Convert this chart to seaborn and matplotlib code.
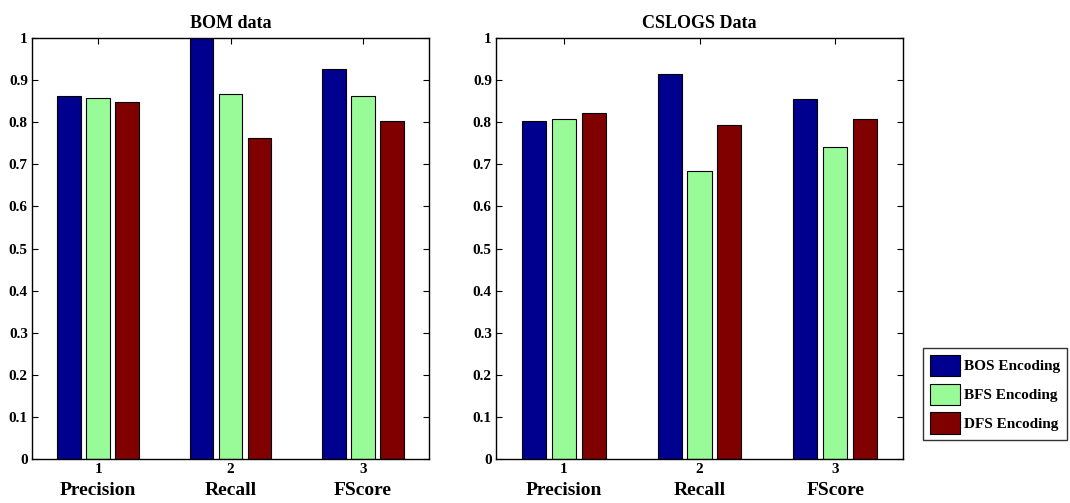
import matplotlib
matplotlib.use("Agg")
import matplotlib.pyplot as plt
import pandas as pd
import seaborn as sns

# Metrics and encodings
metrics = ["Precision", "Recall", "FScore"]
tick_labels = ["1", "2", "3"]
encodings = ["BOS Encoding", "BFS Encoding", "DFS Encoding"]
colors = ["#00008F", "#98FB98", "#800000"]

# BOM dataset scores (per encoding, per metric)
bom_bos = [0.862, 1.000, 0.926]
bom_bfs = [0.858, 0.868, 0.862]
bom_dfs = [0.848, 0.763, 0.803]

# CSLOGS dataset scores
cs_bos = [0.803, 0.915, 0.856]
cs_bfs = [0.807, 0.685, 0.740]
cs_dfs = [0.821, 0.793, 0.807]

y_ticks = [0, 0.1, 0.2, 0.3, 0.4, 0.5, 0.6, 0.7, 0.8, 0.9, 1]
y_tick_labels = ["0", "0.1", "0.2", "0.3", "0.4", "0.5", "0.6", "0.7", "0.8", "0.9", "1"]


def to_frame(bos, bfs, dfs):
    rows = []
    for enc, vals in zip(encodings, [bos, bfs, dfs]):
        for m, v in zip(metrics, vals):
            rows.append({"metric": m, "encoding": enc, "score": v})
    return pd.DataFrame(rows)


sns.set_theme(style="white")
plt.rcParams["font.family"] = ["Liberation Serif", "DejaVu Serif"]
plt.rcParams["font.weight"] = "bold"
plt.rcParams["text.color"] = "black"
plt.rcParams["axes.labelcolor"] = "black"
plt.rcParams["xtick.color"] = "black"
plt.rcParams["ytick.color"] = "black"

fig = plt.figure(figsize=(10.7, 5.03), dpi=100)
ax1 = fig.add_axes([32 / 1070, 44 / 503, 397 / 1070, 421 / 503])
ax2 = fig.add_axes([496 / 1070, 44 / 503, 407 / 1070, 421 / 503])

panels = [
    (ax1, to_frame(bom_bos, bom_bfs, bom_dfs), "BOM data"),
    (ax2, to_frame(cs_bos, cs_bfs, cs_dfs), "CSLOGS Data"),
]

for ax, df, title in panels:
    sns.barplot(
        data=df, x="metric", y="score", hue="encoding", order=metrics,
        hue_order=encodings, palette=colors, width=0.66, gap=0.19,
        edgecolor="black", linewidth=0.8, saturation=1, ax=ax, legend=False,
        errorbar=None,
    )
    ax.set_xlim(-0.5, 2.5)
    ax.set_ylim(0, 1)
    ax.set_xticks(range(3))
    ax.set_xticklabels(tick_labels, fontsize=11, fontweight="bold", color="black")
    ax.set_yticks(y_ticks)
    ax.set_yticklabels(y_tick_labels, fontsize=11, fontweight="bold", color="black")
    ax.tick_params(direction="in", length=4, width=0.8, top=True, right=True,
                   bottom=True, left=True, pad=3, colors="black")
    for s in ax.spines.values():
        s.set_color("black")
        s.set_linewidth(1.0)
    ax.set_xlabel("")
    ax.set_ylabel("")
    ax.set_title(title, fontsize=13, fontweight="bold", pad=7, color="black")
    for i, m in enumerate(metrics):
        ax.text(i, -0.075, m, transform=ax.get_xaxis_transform(), ha="center",
                va="center", fontsize=14, fontweight="bold", color="black")

handles = [plt.Rectangle((0, 0), 1, 1, facecolor=c, edgecolor="black", linewidth=0.8)
           for c in colors]
leg = fig.legend(handles, encodings, loc="upper left",
                 bbox_to_anchor=(923 / 1070, 1 - 348 / 503),
                 prop={"family": "Liberation Serif", "weight": "bold", "size": 11},
                 frameon=True, fancybox=False, handlelength=2.0, handleheight=1.75,
                 handletextpad=0.25, labelspacing=0.5, borderpad=0.45,
                 borderaxespad=0)
leg.get_frame().set_edgecolor("black")
leg.get_frame().set_linewidth(1.0)
for t in leg.get_texts():
    t.set_color("black")

fig.savefig("out.png", dpi=100)
